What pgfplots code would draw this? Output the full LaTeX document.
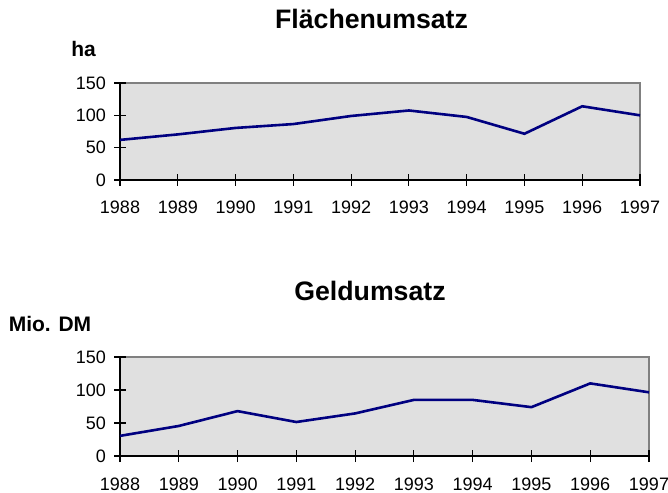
\documentclass[border=0pt]{standalone}
\usepackage{fontspec}
\setmainfont{Liberation Sans}
\usepackage{pgfplots}
\pgfplotsset{compat=1.18}
\definecolor{navy}{RGB}{0,0,128}
\definecolor{plotbg}{RGB}{224,224,224}
\definecolor{framegray}{RGB}{128,128,128}
\newcommand{\tickfont}{\fontsize{18bp}{20bp}\selectfont}
\pgfplotsset{
 mystyle/.style={
  scale only axis,
  anchor=south west,
  xmin=1988, xmax=1997, ymin=0, ymax=150,
  xtick={1988,1989,1990,1991,1992,1993,1994,1995,1996,1997},
  ytick={0,50,100,150},
  minor tick num=0,
  axis x line*=bottom, axis y line*=left,
  axis line style={-, black, line width=1.2bp},
  axis background/.style={fill=plotbg, draw=framegray, line width=1.6bp},
  tick style={black, line width=1.2bp},
  major tick length=12bp,
  tick align=center,
  /pgf/number format/1000 sep={},
  /pgf/number format/assume math mode=true,
  xticklabel={\tickfont\pgfmathprintnumber[1000 sep={},assume math mode=true]{\tick}},
  yticklabel={\tickfont\pgfmathprintnumber[assume math mode=true]{\tick}},
  xticklabel style={anchor=base, yshift=-28bp},
  yticklabel style={anchor=east, inner sep=0pt, xshift=-8bp},
  title style={font=\bfseries\fontsize{26.7bp}{30bp}\selectfont, anchor=base},
  clip=false,
 }
}
\begin{document}
\begin{tikzpicture}
\useasboundingbox (0,0) rectangle (668bp,493bp);
\begin{axis}[mystyle,
  at={(120bp,313bp)}, width=520bp, height=97bp,
  title={Flächenumsatz},
  title style={at={(axis description cs:0.4837,1.505)}},
  ylabel={ha},
  every axis y label/.style={at={(axis description cs:-0.094,1.273)}, anchor=base west,
     inner sep=0pt, font=\bfseries\fontsize{21bp}{23bp}\selectfont},
]
\addplot[navy, line width=2.6bp] coordinates {
(1988,62) (1989,70.5) (1990,80.5) (1991,86.5) (1992,99)
(1993,107.5) (1994,97.5) (1995,71.5) (1996,114) (1997,100)};
\end{axis}
\begin{axis}[mystyle,
  at={(120bp,37bp)}, width=529bp, height=99bp,
  title={Geldumsatz},
  title style={at={(axis description cs:0.4726,1.509)}},
  ylabel={Mio. DM},
  every axis y label/.style={at={(axis description cs:-0.054,1.256)}, anchor=base east,
     inner sep=0pt, font=\bfseries\fontsize{21bp}{23bp}\selectfont},
]
\addplot[navy, line width=2.6bp] coordinates {
(1988,30.5) (1989,45.5) (1990,68) (1991,51.5) (1992,64.5)
(1993,85) (1994,85) (1995,74) (1996,110) (1997,96.5)};
\end{axis}
\end{tikzpicture}
\end{document}
